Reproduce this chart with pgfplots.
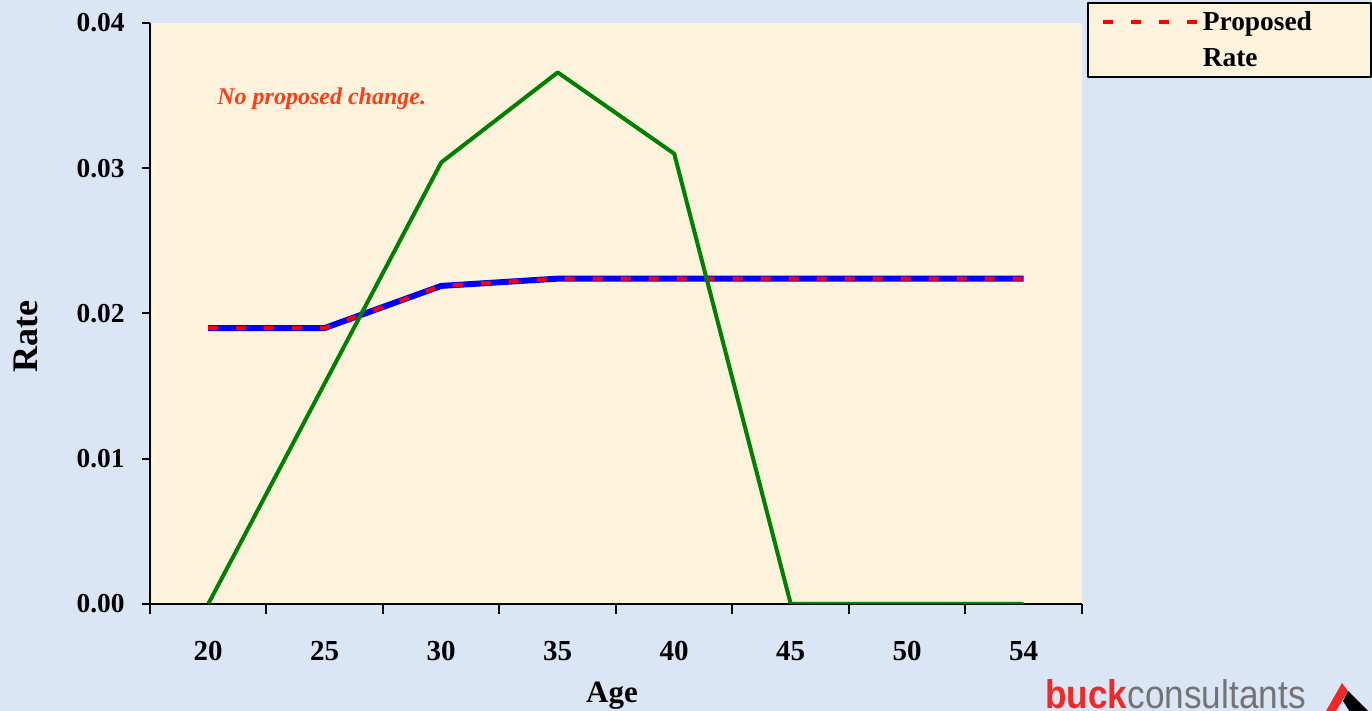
\documentclass[border=0pt]{standalone}
\usepackage{fontspec}
\setmainfont{Liberation Serif}
\newfontfamily\logofont{Liberation Sans}
\usepackage{pgfplots}
\pgfplotsset{compat=1.18}
\definecolor{bgblue}{RGB}{218,230,245}
\definecolor{beige}{RGB}{253,243,221}
\definecolor{annot}{RGB}{255,60,20}
\definecolor{logored}{RGB}{240,40,40}
\definecolor{logogray}{RGB}{115,115,115}
\definecolor{dgreen}{RGB}{0,128,0}
\begin{document}
\begin{tikzpicture}
\path[use as bounding box, clip] (0,0) rectangle (686pt,355.5pt);
\fill[bgblue] (0,0) rectangle (686pt,355.5pt);
\begin{axis}[
  at={(75pt,53.5pt)}, anchor=south west,
  scale only axis, width=466pt, height=290.5pt,
  xmin=-0.5, xmax=7.5, ymin=0, ymax=0.04,
  axis lines=left, axis line style={-, line width=1pt},
  axis background/.style={fill=beige},
  xtick={0,...,7}, xticklabels={20,25,30,35,40,45,50,54},
  minor xtick={-0.5,0.5,...,7.5},
  ytick={0,0.01,0.02,0.03,0.04}, yticklabels={0.00,0.01,0.02,0.03,0.04},
  scaled y ticks=false,
  tick align=outside,
  major tick length=4pt, minor tick length=5pt,
  every tick/.style={black, line width=1pt},
  major x tick style={draw=none},
  yticklabel style={font=\fontsize{13.7}{16}\selectfont\bfseries, inner sep=2pt, xshift=-6.5pt},
  xticklabel style={font=\fontsize{14.5}{16}\selectfont\bfseries, yshift=-11pt},
  xlabel={Age}, ylabel={Rate},
  xlabel style={font=\fontsize{15.5}{18}\selectfont\bfseries, at={(axis description cs:0.4957,-0.1704)}, anchor=base, inner sep=0pt},
  ylabel style={font=\fontsize{18}{20}\selectfont\bfseries, at={(axis description cs:-0.1212,0.461)}, anchor=base, inner sep=0pt},
  legend style={at={(1.311,0.9053)}, anchor=south east, draw=black, line width=1pt,
    fill=beige, font=\fontsize{13.7}{18}\selectfont\bfseries, inner xsep=6.5pt, inner ysep=2pt, row sep=3.5pt},
  legend cell align=left,
  legend image code/.code={\draw[#1] (0pt,0pt) -- (47pt,0pt);},
  line join=round,
]
\addplot[blue, line width=3pt, forget plot] coordinates {(0,0.0190)(1,0.0190)(2,0.0219)(3,0.0224)(4,0.0224)(5,0.0224)(6,0.0224)(7,0.0224)};
\addplot[red, line width=2pt, dash pattern=on 5pt off 9pt] coordinates {(0,0.0190)(1,0.0190)(2,0.0219)(3,0.0224)(4,0.0224)(5,0.0224)(6,0.0224)(7,0.0224)};
\addlegendentry[text width=75.5pt]{Proposed}
\addlegendimage{empty legend}
\addlegendentry[text width=75.5pt]{Rate}
\addplot[dgreen, line width=2pt, forget plot] coordinates {(0,0)(1,0.0152)(2,0.0304)(3,0.0366)(4,0.0310)(5,0)(6,0)(7,0)};
\node[anchor=west, inner sep=0pt, font=\fontsize{12}{14}\selectfont\bfseries\itshape, text=annot] at (axis cs:0.075,0.0348) {No proposed change.};
\end{axis}
\node[anchor=base west, inner sep=0pt] at (522.5pt,1pt) {\scalebox{0.88}[1]{\logofont\fontsize{20}{22}\selectfont{\bfseries\color{logored}buck}{\color{logogray}consultants}}};
\fill[logored] (663pt,0pt) -- (671pt,14pt) -- (674pt,10pt) -- (668pt,0pt) -- cycle;
\fill[black] (674pt,10pt) -- (686pt,-2pt) -- (676pt,-2pt) -- (671.5pt,5pt) -- cycle;
\end{tikzpicture}
\end{document}
